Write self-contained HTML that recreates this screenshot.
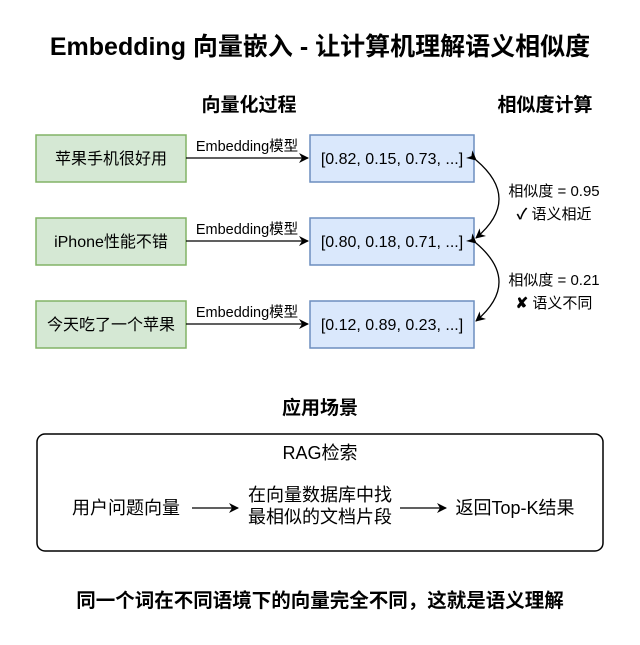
<!DOCTYPE html>
<html><head><meta charset="utf-8"><style>
html,body{margin:0;padding:0;background:#fff}
text{font-family:"Liberation Sans","Noto Sans CJK SC",sans-serif;fill:#000}
</style></head><body>
<svg width="640" height="640" viewBox="0 0 640 640" xmlns="http://www.w3.org/2000/svg">
<defs><marker id="a" markerWidth="10" markerHeight="10" refX="9" refY="5" orient="auto" markerUnits="userSpaceOnUse"><path d="M0,0 L10,5 L0,10 L3,5 Z" fill="#000"/></marker></defs>
<text x="320" y="55" font-size="25" font-weight="bold" text-anchor="middle">Embedding 向量嵌入 - 让计算机理解语义相似度</text>
<text x="249" y="111" font-size="19" font-weight="bold" text-anchor="middle">向量化过程</text>
<text x="545" y="111" font-size="19" font-weight="bold" text-anchor="middle">相似度计算</text>
<g font-size="16">
<rect x="36" y="135" width="150" height="47" fill="#d5e8d4" stroke="#82b366" stroke-width="1.5"/>
<text x="111" y="164" text-anchor="middle">苹果手机很好用</text>
<rect x="36" y="218" width="150" height="47" fill="#d5e8d4" stroke="#82b366" stroke-width="1.5"/>
<text x="111" y="247" text-anchor="middle">iPhone性能不错</text>
<rect x="36" y="301" width="150" height="47" fill="#d5e8d4" stroke="#82b366" stroke-width="1.5"/>
<text x="111" y="330" text-anchor="middle">今天吃了一个苹果</text>
<rect x="310" y="135" width="164" height="47" fill="#dae8fc" stroke="#6c8ebf" stroke-width="1.5"/>
<text x="392" y="164" text-anchor="middle">[0.82, 0.15, 0.73, ...]</text>
<rect x="310" y="218" width="164" height="47" fill="#dae8fc" stroke="#6c8ebf" stroke-width="1.5"/>
<text x="392" y="247" text-anchor="middle">[0.80, 0.18, 0.71, ...]</text>
<rect x="310" y="301" width="164" height="47" fill="#dae8fc" stroke="#6c8ebf" stroke-width="1.5"/>
<text x="392" y="330" text-anchor="middle">[0.12, 0.89, 0.23, ...]</text>
</g>
<g stroke="#000" stroke-width="1.3" fill="none">
<line x1="186" y1="158" x2="308" y2="158" marker-end="url(#a)"/>
<line x1="186" y1="241" x2="308" y2="241" marker-end="url(#a)"/>
<line x1="186" y1="324" x2="308" y2="324" marker-end="url(#a)"/>
<path d="M476,160 Q522,199 476,238" marker-start="url(#a)" marker-end="url(#a)"/>
<path d="M476,243 Q522,282 476,321" marker-start="url(#a)" marker-end="url(#a)"/>
</g>
<g font-size="14.5" text-anchor="middle">
<text x="247" y="151">Embedding模型</text>
<text x="247" y="234">Embedding模型</text>
<text x="247" y="317">Embedding模型</text>
</g>
<g font-size="15" text-anchor="middle">
<text x="554" y="196">相似度 = 0.95</text>
<text x="554" y="219"><tspan font-weight="bold">✓</tspan> 语义相近</text>
<text x="554" y="285">相似度 = 0.21</text>
<text x="554" y="308"><tspan font-weight="bold">✘</tspan> 语义不同</text>
</g>
<text x="320" y="414" font-size="19" font-weight="bold" text-anchor="middle">应用场景</text>
<rect x="37" y="434" width="566" height="117" rx="8" fill="#fff" stroke="#000" stroke-width="1.5"/>
<g font-size="18" text-anchor="middle">
<text x="320" y="459">RAG检索</text>
<text x="126" y="514">用户问题向量</text>
<text x="320" y="501">在向量数据库中找</text>
<text x="320" y="523">最相似的文档片段</text>
<text x="515" y="514">返回Top-K结果</text>
</g>
<g stroke="#000" stroke-width="1.3">
<line x1="192" y1="508" x2="238" y2="508" marker-end="url(#a)"/>
<line x1="400" y1="508" x2="446" y2="508" marker-end="url(#a)"/>
</g>
<text x="320" y="607" font-size="19.5" font-weight="bold" text-anchor="middle">同一个词在不同语境下的向量完全不同，这就是语义理解</text>
</svg>
</body></html>
